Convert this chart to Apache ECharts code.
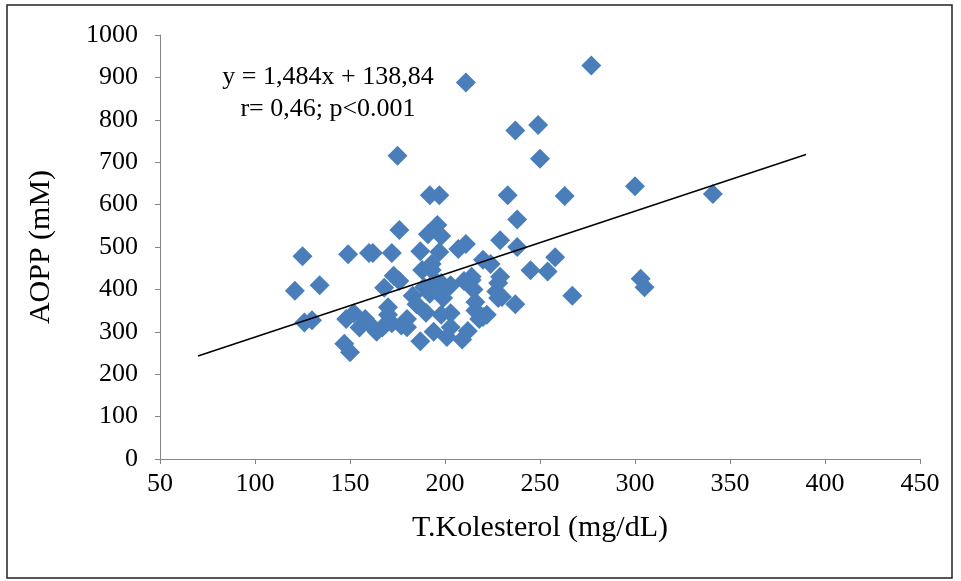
<!DOCTYPE html>
<html>
<head>
<meta charset="utf-8">
<script src="https://cdn.jsdelivr.net/npm/echarts@6/dist/echarts.min.js"></script>
<style>html,body{margin:0;padding:0;background:#fff}#c{width:961px;height:581px}</style>
</head>
<body>
<div id="c"></div>
<script>
// T.Kolesterol (mg/dL)
const cholesterol = [121,125,126,130,134,147,148,149,150,152,155,158,160,162,162,164,167,168,170,170,172,172,173,175,176,176,177,180,180,183,185,187,187,188,189,190,191,192,192,193,193,194,195,196,197,197,198,198,198,199,200,201,203,203,203,207,209,210,211,211,212,214,214,215,216,216,218,220,220,222,224,227,228,228,229,229,230,233,237,237,238,238,245,249,250,254,258,263,267,277,300,303,305,341];
// AOPP (mM)
const aopp = [397,478,322,327,410,272,330,483,252,344,310,330,486,486,311,300,310,404,340,358,486,320,432,715,540,420,315,330,311,385,365,490,278,446,405,345,530,622,390,460,446,300,420,552,488,622,340,526,415,380,400,288,410,344,311,495,282,420,888,507,302,430,422,400,370,350,330,470,335,340,460,395,380,415,516,430,382,622,775,365,500,565,445,788,708,442,476,620,385,928,643,425,405,625];
// trend line end points (y = 1,484x + 138,84)
const trendX = [70, 390];
const trendY = [243, 718];
const xTicks = [50, 450, 50];   // min, max, interval
const yTicks = [0, 1000, 100];

const pts = cholesterol.map((x, i) => [x, aopp[i]]);
const trend = trendX.map((x, i) => [x, trendY[i]]);
const serif = '"Liberation Serif", "Times New Roman", serif';

const chart = echarts.init(document.getElementById('c'), null, {renderer: 'canvas'});
chart.setOption({
  animation: false,
  backgroundColor: '#fff',
  grid: {left: 160, right: 41, top: 35, bottom: 122},
  xAxis: {
    type: 'value', min: xTicks[0], max: xTicks[1], interval: xTicks[2],
    name: 'T.Kolesterol (mg/dL)', nameLocation: 'middle', nameGap: 54,
    nameTextStyle: {fontFamily: serif, fontSize: 30, color: '#000'},
    axisLine: {show: true, lineStyle: {color: '#868686', width: 1}},
    axisTick: {show: true, length: 5, lineStyle: {color: '#868686'}},
    axisLabel: {fontFamily: serif, fontSize: 26, color: '#000', margin: 12, formatter: v => String(v)},
    splitLine: {show: false}
  },
  yAxis: {
    type: 'value', min: yTicks[0], max: yTicks[1], interval: yTicks[2],
    name: 'AOPP (mM)', nameLocation: 'middle', nameGap: 104,
    nameTextStyle: {fontFamily: serif, fontSize: 30, color: '#000'},
    axisLine: {show: true, lineStyle: {color: '#868686', width: 1}},
    axisTick: {show: true, length: 5, lineStyle: {color: '#868686'}},
    axisLabel: {fontFamily: serif, fontSize: 26, color: '#000', margin: 22, formatter: v => String(v)},
    splitLine: {show: false}
  },
  series: [
    {
      type: 'scatter', data: pts, symbol: 'diamond', symbolSize: 20,
      itemStyle: {color: '#4a7ebb', opacity: 1}, z: 2
    },
    {
      type: 'line', data: trend, symbol: 'none',
      lineStyle: {color: '#000', width: 1.5}, z: 3
    }
  ],
  graphic: [
    {type: 'rect', shape: {x: 7, y: 5, width: 945, height: 573}, style: {fill: 'none', stroke: '#222', lineWidth: 1.5}, silent: true},
    {type: 'text', x: 328, y: 77, style: {text: 'y = 1,484x + 138,84', font: '26px ' + serif, fill: '#000', textAlign: 'center', textVerticalAlign: 'middle'}},
    {type: 'text', x: 328, y: 109, style: {text: 'r= 0,46; p<0.001', font: '26px ' + serif, fill: '#000', textAlign: 'center', textVerticalAlign: 'middle'}}
  ]
});
</script>
</body>
</html>
